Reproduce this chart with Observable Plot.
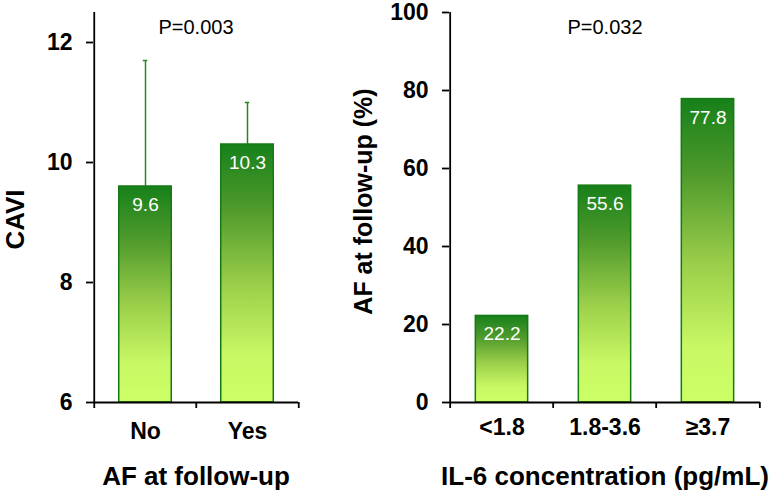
<!DOCTYPE html>
<html>
<head>
<meta charset="utf-8">
<script src="https://cdn.jsdelivr.net/npm/d3@7"></script>
<script src="https://cdn.jsdelivr.net/npm/@observablehq/plot@0.6"></script>
<style>
  html, body { margin: 0; padding: 0; background: #fff; }
  #wrap { display: flex; width: 774px; height: 493px; }
</style>
</head>
<body>
<div id="wrap"></div>
<script>
// ---- data ----
const afCategories = ["No", "Yes"];
const caviMean = [9.6, 10.3];
const caviUpper = [11.7, 11.0];
const caviTicks = [6, 8, 10, 12];
const caviP = "P=0.003";

const il6Categories = ["<1.8", "1.8-3.6", "≥3.7"];
const afPercent = [22.2, 55.6, 77.8];
const pctTicks = [0, 20, 40, 60, 80, 100];
const il6P = "P=0.032";

const leftData = afCategories.map((c, i) => ({cat: c, val: caviMean[i], upper: caviUpper[i]}));
const rightData = il6Categories.map((c, i) => ({cat: c, val: afPercent[i]}));

const FONT = "Liberation Sans, Arial, Helvetica, sans-serif";
const BAR_STROKE = "#167a14";

function addGradient(svg, id) {
  const defs = d3.select(svg).insert("defs", ":first-child");
  const g = defs.append("linearGradient").attr("id", id)
    .attr("x1", 0).attr("y1", 0).attr("x2", 0).attr("y2", 1);
  [[0, "#17801a"], [0.25, "#4f9a2c"], [0.55, "#9ccf4a"], [0.82, "#c8f864"], [1, "#ccff66"]]
    .forEach(([o, c]) => g.append("stop").attr("offset", o).attr("stop-color", c));
}

function panel({data, cats, domain, ticks, width, marginLeft, marginRight, ylabel, ylabelDx, ylabelDy, ylabelSize, xlabel, pText, base, gradId, errors, tickPad}) {
  const marginTop = 12, marginBottom = 91, height = 493;
  const plotW = width - marginLeft - marginRight;
  const plotH = height - marginTop - marginBottom;
  const step = plotW / cats.length;
  const barW = 53;
  const inset = (step - barW) / 2;
  const last = cats[cats.length - 1];
  const marks = [
    Plot.barY(data, {x: "cat", y1: base, y2: "val", fill: `url(#${gradId})`, stroke: BAR_STROKE, strokeWidth: 1.5, insetLeft: inset, insetRight: inset}),
  ];
  if (errors) {
    marks.push(
      Plot.ruleX(data, {x: "cat", y1: "val", y2: "upper", stroke: "#22881f", strokeWidth: 1.5}),
      Plot.tickY(data, {x: "cat", y: "upper", stroke: "#22881f", strokeWidth: 1.5, insetLeft: (step - 5) / 2, insetRight: (step - 5) / 2})
    );
  }
  marks.push(
    Plot.text(data, {x: "cat", y: "val", text: d => d.val.toFixed(1), fill: "#fff", fontSize: 19, lineAnchor: "top", dy: 11}),
    // y axis line
    Plot.ruleX([cats[0]], {dx: -step / 2, stroke: "#000", strokeWidth: 1.8}),
    // baseline
    Plot.ruleY([base], {stroke: "#000", strokeWidth: 1.8}),
    // x boundary ticks
    Plot.ruleX(cats, {dx: -step / 2, insetTop: plotH, insetBottom: -6, stroke: "#000", strokeWidth: 1.8}),
    Plot.ruleX([last], {dx: step / 2, insetTop: plotH, insetBottom: -6, stroke: "#000", strokeWidth: 1.8}),
    Plot.axisY({ticks, tickFormat: d => String(d), tickSize: 7, tickPadding: 14, fontSize: 23, fontWeight: "bold", label: null, strokeWidth: 1.8}),
    Plot.axisX({tickSize: 0, tickPadding: tickPad, fontSize: 23, fontWeight: "bold", label: null}),
    Plot.text([ylabel], {frameAnchor: "left", textAnchor: "middle", rotate: -90, dx: ylabelDx, dy: ylabelDy, fontSize: ylabelSize, fontWeight: "bold", lineAnchor: "middle"}),
    Plot.text([xlabel], {frameAnchor: "bottom", dy: 64, fontSize: 26, fontWeight: "bold", lineAnchor: "top"}),
    Plot.text([pText], {frameAnchor: "top", dy: 7, fontSize: 20, lineAnchor: "top"})
  );
  const svg = Plot.plot({
    width, height, marginTop, marginBottom, marginLeft, marginRight,
    style: {fontFamily: FONT, color: "#000", background: "#fff", overflow: "visible"},
    x: {domain: cats, padding: 0, axis: null},
    y: {domain, axis: null},
    marks
  });
  addGradient(svg, gradId);
  return svg;
}

const wrap = document.getElementById("wrap");
wrap.appendChild(panel({
  data: leftData, cats: afCategories, domain: [6, 12.5], ticks: caviTicks,
  width: 320, marginLeft: 93, marginRight: 22,
  ylabel: "CAVI", ylabelDx: -78, ylabelDy: 12, ylabelSize: 26, xlabel: "AF at follow-up", pText: caviP,
  base: 6, gradId: "gradL", errors: true, tickPad: 20
}));
wrap.appendChild(panel({
  data: rightData, cats: il6Categories, domain: [0, 100], ticks: pctTicks,
  width: 454, marginLeft: 129, marginRight: 14,
  ylabel: "AF at follow-up (%)", ylabelDx: -86, ylabelDy: -6, ylabelSize: 25, xlabel: "IL-6 concentration (pg/mL)", pText: il6P,
  base: 0, gradId: "gradR", errors: false, tickPad: 16
}));
</script>
</body>
</html>
